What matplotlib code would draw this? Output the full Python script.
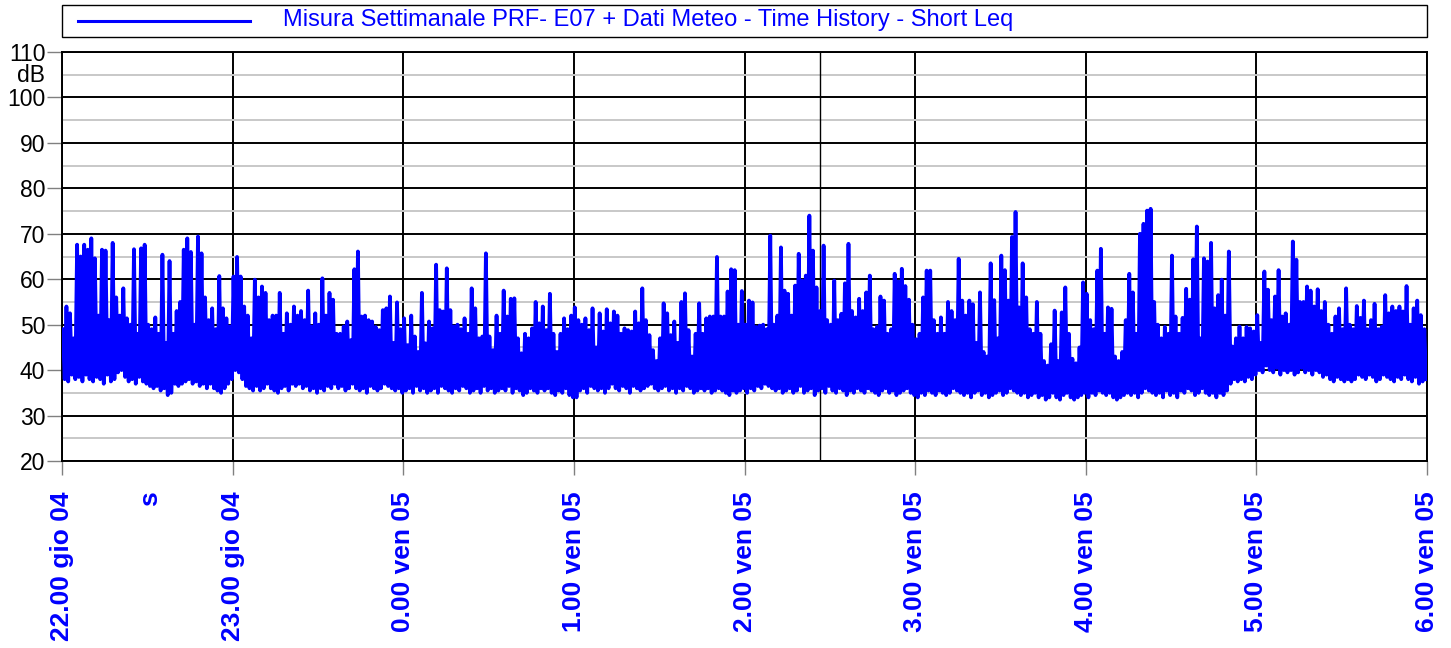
import matplotlib.pyplot as plt
from matplotlib.lines import Line2D
from matplotlib.patches import Rectangle

# ---------------------------------------------------------------------------
# Data: Short Leq in dB, 48 peak / 48 trough readings
# per hour, hours counted from 22:00
# ---------------------------------------------------------------------------

hour_labels = ["22.00 gio 04", "23.00 gio 04", "0.00 ven 05", "1.00 ven 05",
               "2.00 ven 05", "3.00 ven 05", "4.00 ven 05", "5.00 ven 05",
               "6.00 ven 05"]

peaks_22 = [49, 54, 52.5, 47, 67.6, 65, 67.6, 66.5, 69, 64.6, 52, 66.5, 66.3, 51,
            68, 56, 52, 58, 51.4, 50, 66.6, 48, 66.8, 67.6, 50, 49, 51.6, 48,
            65.4, 46, 64, 48, 53, 55, 66.5, 69, 66, 50, 69.4, 65.7, 56, 51, 53.6,
            49, 60.7, 53.6, 51.4, 49.6]
troughs_22 = [38, 37.5, 39, 38, 38.5, 37.5, 39, 38, 37.5, 38.5, 38, 37, 39, 37.5,
              38, 39.5, 40, 38.5, 37.5, 38, 37, 38.5, 37.5, 37, 36.5, 36, 36.5,
              35.5, 36, 34.5, 35, 37, 36.5, 37, 37.5, 38, 37, 37.5, 36.5, 37, 36,
              37, 36, 35.5, 35, 36, 37, 38]

peaks_23 = [60.6, 64.9, 60.6, 54, 52, 47, 59.9, 56, 58.4, 57, 51, 52, 52, 57, 48,
            52.5, 50, 54, 52, 53, 51, 57.5, 49.6, 52.5, 50, 60.2, 52, 57, 55.5, 48,
            48, 49.6, 50.7, 46.6, 62.2, 66.1, 51.8, 52, 51, 50.7, 49.5, 48.8, 53.2,
            53.6, 56.2, 46, 54.9, 49]
troughs_23 = [40, 39.5, 38, 36.5, 36, 35.5, 36.5, 35.5, 36, 37, 36, 35.5, 35, 36,
              36.5, 35.5, 37, 36.5, 37, 36, 36.5, 35.5, 36, 35, 36, 35.5, 36.5, 36,
              37, 36, 36.5, 35.5, 36, 37, 36, 35.5, 36, 35, 36.5, 36, 35.5, 36, 37,
              36.5, 36, 35.5, 36, 35]

peaks_00 = [51.4, 45.5, 52, 47.4, 44, 57, 45.9, 50.7, 49.2, 63.2, 53.2, 52.9, 62.4,
            53.2, 49.6, 50, 49, 51.4, 48, 58, 53.6, 47, 47.4, 65.7, 47.4, 44.4, 52,
            48, 57.5, 51.8, 55.7, 55.8, 47, 43.7, 48, 47, 49.2, 55, 50.3, 54, 48.8,
            56.8, 48, 44, 48, 51.4, 49, 52]
troughs_00 = [35.5, 36, 35, 36.5, 35.5, 36, 35, 35.5, 36, 35, 36.5, 36, 35.5, 35,
              36, 35.5, 36.5, 36, 35, 35.5, 36, 35, 36.5, 35.5, 36, 35, 35.5, 36,
              35.5, 36.5, 35, 36, 35.5, 34.5, 35, 36, 35.5, 35, 36, 35.5, 36, 35,
              34.5, 35.5, 35, 36, 34.5, 34]

peaks_01 = [53.8, 51, 50, 51.4, 48.8, 53.6, 45, 52.5, 48.5, 53.4, 50.3, 52.9, 52,
            48, 49.2, 48.8, 48.5, 52.9, 50.3, 58, 51, 47.7, 44.4, 42, 47, 54.7, 52.5,
            47.7, 50.7, 46, 55, 56.9, 48.8, 43, 48, 54.7, 48, 51.4, 51.8, 51.8, 64.9,
            51.8, 51.8, 57.3, 62.2, 62, 50, 57.4]
troughs_01 = [34, 35.5, 36, 35, 36.5, 36, 35.5, 36, 35, 36, 37, 36, 35.5, 36.5, 36,
              35, 36.5, 36, 35.5, 36, 36.5, 37, 36, 35.5, 36, 36.5, 35.5, 36, 35, 36,
              35.5, 36.5, 36, 35, 35.5, 36, 35.5, 36, 35, 35.5, 36, 35.5, 35, 34.5,
              35.5, 35, 35.5, 36]

peaks_02 = [50, 55.3, 54.9, 49.5, 49.8, 50, 49, 69.6, 50, 52, 67, 57.5, 56.8, 52,
            58.6, 65.6, 59.7, 60.8, 74, 66.3, 58.2, 53, 67.4, 51, 50, 59.7, 51, 52.4,
            59.1, 67.8, 53, 51.6, 55.7, 53, 57.1, 60.8, 49, 49.5, 56.2, 55.3, 48, 49,
            61.2, 59.5, 62.3, 58.5, 55.5, 50]
troughs_02 = [35, 36, 35.5, 36.5, 36, 37, 36.5, 36, 35.5, 36, 35, 35.5, 36, 35, 35.5,
              36.5, 35, 35.5, 36, 34.5, 35.5, 36, 35, 36.5, 35.5, 35, 36, 35.5, 34.5,
              35.5, 35, 36, 35.5, 35, 36, 35.5, 35, 34.5, 35.5, 36, 35, 35.5, 34.5,
              35, 35.5, 36, 35, 34.5]

peaks_03 = [46.8, 48, 56, 61.9, 61.9, 51, 48, 51.6, 48, 55, 53, 51, 64.5, 55.3,
            52, 55.3, 54.5, 46, 57.1, 44, 43, 63.5, 55.4, 47, 65.2, 62, 55.3, 69.3,
            74.8, 53.8, 63.5, 56, 49, 48, 55, 48, 42, 41, 45.7, 53.1, 42, 52.7, 58.2,
            48, 42.5, 41.5, 45, 59.3]
troughs_03 = [34, 35, 34.5, 35.5, 35, 34.5, 35.5, 35, 34.5, 35, 36, 35.5, 35, 34.5,
              35, 34, 35, 35.5, 34.5, 35, 34, 34.5, 35, 35.5, 34.5, 35, 36, 35.5, 35,
              34.5, 35, 34, 34.5, 35, 34, 34.5, 33.5, 34, 35, 34, 33.5, 34.5, 35, 34,
              33.5, 34, 34.5, 35]

peaks_04 = [56.8, 51, 49, 61.9, 66.7, 48, 53.8, 53.5, 43, 42, 44, 51, 61.2, 57.1,
            48, 70, 72.2, 75.1, 75.5, 55, 50, 47, 49.5, 48, 65.2, 51.8, 48, 51.5,
            57.9, 55.5, 64.4, 71.6, 47, 64.6, 63.9, 68, 53.6, 56.5, 59.9, 52, 66.1,
            45.2, 47, 49.6, 47, 49.5, 49.2, 48.5]
troughs_04 = [34, 35, 34.5, 35.5, 35, 34.5, 35, 34, 33.5, 34, 34.5, 35, 34.5, 35, 34,
              35, 36, 35.5, 35, 34.5, 35, 34, 35.5, 34.5, 35, 34, 35.5, 35, 36, 35.5,
              34.5, 35, 36, 35, 34.5, 35, 34, 35, 34.5, 35.5, 37, 38, 37.5, 38, 37.5,
              38.5, 38, 39]

peaks_05 = [52.1, 46, 61.7, 57.7, 51, 56.2, 62, 51.8, 52.5, 50, 68.3, 64.3, 55, 55,
            58.4, 57.5, 54, 57.8, 53, 55, 50, 48, 51.8, 53.6, 49, 58, 50, 49, 54.1,
            51.5, 55.3, 49, 51, 54.6, 49, 49.5, 56.5, 52.5, 54, 53, 54, 52.9, 58.5,
            50, 53.6, 55.3, 52.1, 49]
troughs_05 = [40, 39.5, 41, 40, 39.5, 40.5, 39, 40, 39.5, 40, 39, 39.5, 40.5, 39.5,
              40, 39, 40, 39.5, 38.5, 39, 38, 37.5, 38.5, 38, 37.5, 38, 37.5, 38, 39,
              38.5, 38, 39, 38.5, 37.5, 38, 39, 38.5, 38, 37.5, 38.5, 38, 39, 38,
              37.5, 38.5, 37, 37.5, 38]

cursor_hour = 4.445  # cursor line at about 2.27
legend_label = "Misura Settimanale PRF- E07 + Dati Meteo - Time History - Short Leq"

# ---------------------------------------------------------------------------
# Build the time series (peak / trough alternating inside each hour)
# ---------------------------------------------------------------------------

peaks = [peaks_22, peaks_23, peaks_00, peaks_01, peaks_02, peaks_03, peaks_04, peaks_05]
troughs = [troughs_22, troughs_23, troughs_00, troughs_01, troughs_02, troughs_03,
           troughs_04, troughs_05]

t, leq = [], []
for h, (pk, tr) in enumerate(zip(peaks, troughs)):
    n = len(pk)
    for i in range(n):
        t += [h + (i + 0.25) / n, h + (i + 0.75) / n]
        leq += [pk[i], tr[i]]

plt.rcParams["font.family"] = ["Liberation Sans", "DejaVu Sans"]
blue = "#0000ff"

fig = plt.figure(figsize=(14.51, 6.48), dpi=100)
W, H = 1451, 648
ax = fig.add_axes([62 / W, 1 - 461 / H, (1427 - 62) / W, (461 - 52) / H])

ax.plot(t, leq, color=blue, lw=2.7, zorder=3)
ax.axvline(cursor_hour, color="black", lw=1.0, zorder=2)

ax.set_xlim(0, 8)
ax.set_ylim(20, 110)
ax.set_yticks(range(20, 111, 10))
ax.set_yticks(range(25, 110, 10), minor=True)
ax.set_xticks(range(9), hour_labels)

ax.grid(which="major", color="black", lw=1.4)
ax.grid(which="minor", axis="y", color="#c8c8c8", lw=1.4)
for sp in ax.spines.values():
    sp.set_color("black")
    sp.set_linewidth(1.4)

ax.tick_params(which="minor", length=0)
ax.tick_params(axis="y", which="major", length=10.5, width=1, color="#808080",
               labelsize=16.5, pad=1.5)
ax.tick_params(axis="x", which="major", length=10, width=1, color="#808080",
               labelsize=19, labelcolor=blue, labelrotation=90, pad=12)
for lab in ax.get_xticklabels():
    lab.set_fontweight("bold")

fig.text(45 / W, 1 - 75 / H, "dB", ha="right", va="center", fontsize=16.5)
fig.text(150 / W, 1 - 499 / H, "s", ha="center", va="center", rotation=90,
         fontsize=19, fontweight="bold", color=blue)

# legend box above the plot, drawn in figure pixels
fig.add_artist(Rectangle((62 / W, 1 - 37 / H), (1427 - 62) / W, 32 / H,
                         transform=fig.transFigure, facecolor="white",
                         edgecolor="black", lw=1.0))
fig.add_artist(Line2D([78 / W, 250 / W], [1 - 21 / H, 1 - 21 / H],
                      transform=fig.transFigure, color=blue, lw=2.2))
fig.text(283 / W, 1 - 20 / H, legend_label, ha="left", va="center",
         fontsize=17, color=blue)

fig.savefig("out.png", dpi=100)
